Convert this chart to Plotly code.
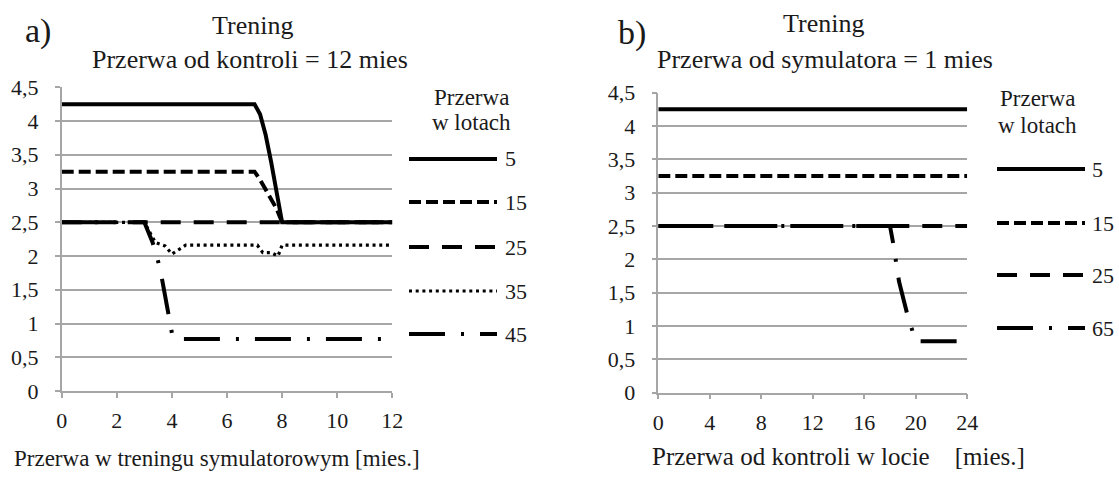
import plotly.graph_objects as go

W, H = 1119, 477

# ---------------- data ----------------
# panel a) x: Przerwa w treningu symulatorowym [mies.]
a_names = ["5", "15", "25", "35", "45"]
a_x_5 = [0, 7, 7.2, 7.4, 7.6, 7.8, 8, 12]
a_y_5 = [4.25, 4.25, 4.1, 3.8, 3.4, 2.95, 2.5, 2.5]
a_x_15 = [0, 7, 7.2, 7.5, 7.8, 8, 12]
a_y_15 = [3.25, 3.25, 3.13, 2.92, 2.7, 2.5, 2.5]
a_x_25 = [0, 12]
a_y_25 = [2.5, 2.5]
a_x_35 = [0, 3, 3.4, 3.75, 4.0, 4.25, 4.5, 7.1, 7.3, 7.6, 7.85, 8.0, 12]
a_y_35 = [2.5, 2.5, 2.2, 2.15, 2.03, 2.1, 2.16, 2.16, 2.05, 2.05, 2.0, 2.16, 2.16]
a_x_45 = [0, 3, 3.3, 3.5, 3.65, 3.9, 4.0, 4.1, 12]
a_y_45 = [2.5, 2.5, 2.2, 1.92, 1.64, 1.13, 0.86, 0.77, 0.77]

# panel b) x: Przerwa od kontroli w locie [mies.]
b_names = ["5", "15", "25", "65"]
b_x_5 = [0, 24]
b_y_5 = [4.25, 4.25]
b_x_15 = [0, 24]
b_y_15 = [3.25, 3.25]
b_x_25 = [0, 24]
b_y_25 = [2.5, 2.5]
b_x_65 = [0, 18, 18.25, 18.5, 18.7, 19.35, 19.8, 20, 24]
b_y_65 = [2.5, 2.5, 2.24, 1.96, 1.67, 1.17, 0.92, 0.77, 0.77]

y_tick_vals = [0, 0.5, 1, 1.5, 2, 2.5, 3, 3.5, 4, 4.5]
y_tick_text = ["0", "0,5", "1", "1,5", "2", "2,5", "3", "3,5", "4", "4,5"]
a_x_ticks = [0, 2, 4, 6, 8, 10, 12]
b_x_ticks = [0, 4, 8, 12, 16, 20, 24]

# ---------------- styles ----------------
FONT = "Liberation Serif"
TXT = "#1a1a1a"
GRID = "#a6a6a6"
LW = 4
dash_styles = {
    "5": ("solid", LW),
    "15": ("12px,5px", LW),
    "25": ("20px,13px", LW),
    "35": ("3px,3.7px", 3.2),
    "45": ("36px,16px,3px,16px", LW),
    "65": ("36px,16px,3px,16px", LW),
}

def px(x):
    return x / W

def py(y):
    return 1 - y / H

fig = go.Figure()

a_series = [(a_x_5, a_y_5), (a_x_15, a_y_15), (a_x_25, a_y_25), (a_x_35, a_y_35), (a_x_45, a_y_45)]
b_series = [(b_x_5, b_y_5), (b_x_15, b_y_15), (b_x_25, b_y_25), (b_x_65, b_y_65)]

for name, (xs, ys) in zip(a_names, a_series):
    d, w = dash_styles[name]
    fig.add_trace(go.Scatter(x=xs, y=ys, mode="lines", name=name, xaxis="x", yaxis="y",
                             line=dict(color="black", width=w, dash=d), showlegend=False))
for name, (xs, ys) in zip(b_names, b_series):
    d, w = dash_styles[name]
    fig.add_trace(go.Scatter(x=xs, y=ys, mode="lines", name=name, xaxis="x2", yaxis="y2",
                             line=dict(color="black", width=w, dash=d), showlegend=False))

axis_common = dict(showline=True, linecolor=GRID, linewidth=1.5, ticks="outside", ticklen=5,
                   tickcolor=GRID, tickwidth=1.5, zeroline=False, automargin=False,
                   tickfont=dict(family=FONT, size=22, color=TXT))

fig.update_layout(
    template="none",
    width=W, height=H, margin=dict(l=0, r=0, t=0, b=0, pad=0),
    paper_bgcolor="white", plot_bgcolor="white",
    font=dict(family=FONT, color=TXT),
    xaxis=dict(domain=[px(61.7), px(392.3)], range=[0, 12], tickvals=a_x_ticks,
               showgrid=False, anchor="y", ticklabelstandoff=4, **axis_common),
    yaxis=dict(domain=[py(391), py(87.3)], range=[0, 4.5], tickvals=y_tick_vals, ticktext=y_tick_text,
               showgrid=True, gridcolor=GRID, gridwidth=1.5, anchor="x", ticklabelstandoff=12, **axis_common),
    xaxis2=dict(domain=[px(658.3), px(967.2)], range=[0, 24], tickvals=b_x_ticks,
                showgrid=False, anchor="y2", ticklabelstandoff=4, **axis_common),
    yaxis2=dict(domain=[py(392.7), py(92.6)], range=[0, 4.5], tickvals=y_tick_vals, ticktext=y_tick_text,
                showgrid=True, gridcolor=GRID, gridwidth=1.5, anchor="x2", ticklabelstandoff=12, **axis_common),
)

ann = []
def text(t, x, y, size, xanchor="center"):
    ann.append(dict(text=t, x=px(x), y=py(y), xref="paper", yref="paper", showarrow=False,
                    xanchor=xanchor, yanchor="middle", font=dict(family=FONT, size=size, color=TXT)))

# panel labels & titles
text("a)", 38, 31, 34)
text("Trening", 252, 25, 26)
text("Przerwa od kontroli = 12 mies", 250, 60, 26)
text("b)", 632, 33, 34)
text("Trening", 823, 24, 26)
text("Przerwa od symulatora = 1 mies", 825, 60, 26)
# axis titles
text("Przerwa w treningu symulatorowym [mies.]", 217, 458, 23)
text("Przerwa od kontroli w locie&nbsp;&nbsp;&nbsp; [mies.]", 838, 456, 25)

# legends
shapes = []
def legend(title_x, title_ys, x0, x1, lx, ys, names):
    text("Przerwa", title_x, title_ys[0], 23)
    text("w lotach", title_x, title_ys[1], 23)
    for n, yy in zip(names, ys):
        d, w = dash_styles[n]
        shapes.append(dict(type="line", xref="paper", yref="paper", x0=px(x0), x1=px(x1),
                           y0=py(yy), y1=py(yy), line=dict(color="black", width=w, dash=d)))
        text(n, lx, yy, 22, xanchor="left")

legend(471, (97, 123), 409, 497, 503, [159, 202, 247, 291, 334], a_names)
legend(1037, (98, 125), 997, 1085, 1090, [169, 223, 275, 328], b_names)

fig.update_layout(annotations=ann, shapes=shapes)
fig.write_html("out.html",
               config={"displayModeBar": False},
               post_script="document.body.style.margin='0';document.body.style.padding='0';")
